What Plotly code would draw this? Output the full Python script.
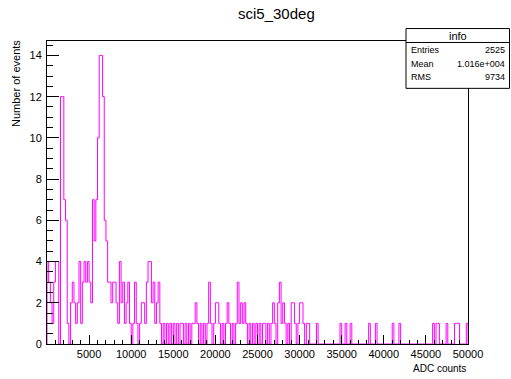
import numpy as np
import plotly.graph_objects as go

# Histogram of ADC counts, 250 bins of width 200 from 0 to 50000
bin_width = 200
x_min = 0
x_max = 50000
counts = [
    # 0 - 5000
    4, 3, 2, 1, 3, 4, 4, 0, 12, 12, 7, 6, 1, 0, 2, 3, 2, 1, 2, 4, 1, 3, 4, 3, 4,
    # 5000 - 10000
    3, 2, 7, 5, 7, 10, 14, 14, 12, 6, 5, 3, 3, 2, 3, 3, 2, 1, 4, 2, 3, 1, 2, 3, 1,
    # 10000 - 15000
    0, 1, 3, 1, 0, 1, 2, 2, 1, 3, 4, 4, 2, 3, 1, 2, 3, 1, 0, 1, 0, 1, 0, 1, 0,
    # 15000 - 20000
    1, 0, 1, 0, 1, 1, 0, 1, 0, 1, 0, 1, 1, 2, 1, 0, 1, 0, 1, 0, 1, 3, 1, 0, 1,
    # 20000 - 25000
    2, 2, 1, 0, 1, 0, 1, 2, 1, 0, 1, 0, 1, 3, 1, 2, 1, 2, 1, 0, 1, 0, 1, 0, 1,
    # 25000 - 30000
    0, 1, 0, 1, 1, 0, 1, 0, 1, 2, 1, 0, 2, 3, 1, 2, 1, 0, 1, 0, 2, 2, 1, 0, 1,
    # 30000 - 35000
    2, 2, 1, 0, 1, 1, 0, 0, 0, 0, 1, 0, 0, 0, 0, 0, 0, 0, 0, 0, 0, 0, 0, 0, 1,
    # 35000 - 40000
    0, 0, 1, 0, 0, 1, 0, 0, 0, 0, 0, 0, 0, 0, 0, 0, 1, 0, 0, 0, 1, 0, 0, 0, 0,
    # 40000 - 45000
    0, 0, 0, 0, 0, 1, 0, 0, 0, 1, 0, 0, 0, 0, 0, 0, 0, 0, 0, 0, 0, 0, 0, 0, 0,
    # 45000 - 50000
    0, 0, 0, 0, 1, 0, 1, 1, 0, 0, 0, 0, 1, 0, 0, 0, 0, 1, 1, 1, 0, 0, 0, 0, 1,
]

title_text = "sci5_30deg"
x_title = "ADC counts"
y_title = "Number of events"
stats_title = "info"
stats_labels = ["Entries", "Mean", "RMS"]
stats_values = ["2525", "1.016e+004", "9734"]
x_tickvals = [5000, 10000, 15000, 20000, 25000, 30000, 35000, 40000, 45000, 50000]
x_ticktext = ["5000", "10000", "15000", "20000", "25000", "30000", "35000", "40000", "45000", "50000"]
y_tickvals = [0, 2, 4, 6, 8, 10, 12, 14]
y_ticktext = ["0", "2", "4", "6", "8", "10", "12", "14"]
y_max = 14.7

edges = np.arange(x_min, x_max + bin_width, bin_width)
xs = [x_min] + list(edges[:-1]) + [x_max, x_max]
ys = [0] + list(counts) + [counts[-1], 0]

fig = go.Figure()
fig.add_trace(go.Scatter(
    x=xs, y=ys, mode="lines", line=dict(color="#ff00ff", width=1, shape="hv"),
    hoverinfo="skip", showlegend=False,
))

font = "Liberation Sans, Arial, sans-serif"
fig.update_layout(
    width=511, height=379,
    margin=dict(l=47, r=43, t=40.5, b=34.5),
    paper_bgcolor="white", plot_bgcolor="white",
    font=dict(family=font, size=11, color="black"),
    showlegend=False,
)
fig.update_xaxes(
    range=[x_min, x_max], tickvals=x_tickvals, ticktext=x_ticktext, ticks="inside", ticklen=9,
    tickcolor="black", tickwidth=1, showgrid=False, zeroline=False,
    showline=True, linecolor="black", linewidth=1, mirror=True,
    minor=dict(dtick=1000, ticks="inside", ticklen=4.5, tickcolor="black", showgrid=False),
    tickfont=dict(size=11), ticklabelstandoff=0,
)
fig.update_yaxes(
    range=[0, y_max], tickvals=y_tickvals, ticktext=y_ticktext, ticks="inside", ticklen=12,
    tickcolor="black", tickwidth=1, showgrid=False, zeroline=False,
    showline=True, linecolor="black", linewidth=1, mirror=True,
    minor=dict(dtick=0.5, ticks="inside", ticklen=6, tickcolor="black", showgrid=False),
    tickfont=dict(size=11), ticklabelstandoff=2,
)

# titles
fig.add_annotation(text=title_text, xref="paper", yref="paper", x=0.546, y=(344.5 - 13) / 304,
                   xanchor="center", yanchor="middle", showarrow=False, font=dict(size=15))
fig.add_annotation(text=x_title, xref="paper", yref="paper", x=1.0, y=(344.5 - 369) / 304,
                   xanchor="right", yanchor="middle", showarrow=False, font=dict(size=10))
fig.add_annotation(text=y_title, xref="paper", yref="paper", x=(16 - 47) / 421, y=(344.5 - 38) / 304,
                   xanchor="center", yanchor="top", textangle=-90, showarrow=False, font=dict(size=11))

# stats box
def px_x(p):
    return (p - 47) / 421

def px_y(p):
    return (344.5 - p) / 304

bx0, bx1, by0, by1 = 406, 509.5, 28, 88
fig.add_shape(type="rect", xref="paper", yref="paper", x0=px_x(bx0), x1=px_x(bx1),
              y0=px_y(by1), y1=px_y(by0), line=dict(color="black", width=1),
              fillcolor="white", layer="above")
fig.add_shape(type="line", xref="paper", yref="paper", x0=px_x(bx0), x1=px_x(bx1),
              y0=px_y(42), y1=px_y(42), line=dict(color="black", width=1), layer="above")
fig.add_annotation(text=stats_title, xref="paper", yref="paper", x=px_x((bx0 + bx1) / 2), y=px_y(35),
                   xanchor="center", yanchor="middle", showarrow=False, font=dict(size=11))
for i, (lab, val) in enumerate(zip(stats_labels, stats_values)):
    yy = px_y(50 + i * 13.5)
    fig.add_annotation(text=lab, xref="paper", yref="paper", x=px_x(409), y=yy,
                       xanchor="left", yanchor="middle", showarrow=False, font=dict(size=9))
    fig.add_annotation(text=val, xref="paper", yref="paper", x=px_x(507), y=yy,
                       xanchor="right", yanchor="middle", showarrow=False, font=dict(size=9))

fig.write_html("out.html")
